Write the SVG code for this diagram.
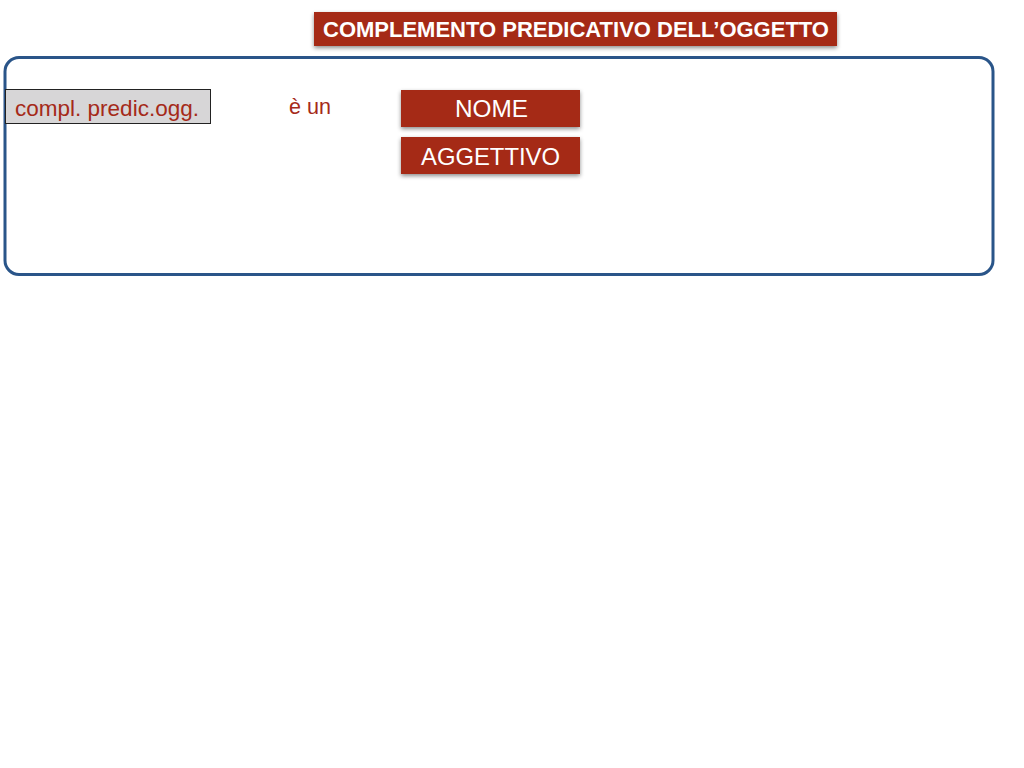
<svg xmlns="http://www.w3.org/2000/svg" width="1024" height="768" viewBox="0 0 1024 768">
<defs>
<filter id="sh" x="-10%" y="-30%" width="120%" height="170%">
<feDropShadow dx="0" dy="2" stdDeviation="2" flood-color="#000" flood-opacity="0.45"/>
</filter>
<style>
.red{fill:#a52a19}
.wt{fill:#fff;font-family:"Liberation Sans",Arial,sans-serif;font-size:24px;text-anchor:middle}
.rt{fill:#a52a19;font-family:"Liberation Sans",Arial,sans-serif;font-size:21.5px}
</style>
</defs>
<rect width="1024" height="768" fill="#fff"/>
<g id="title">
<rect x="314" y="12" width="523" height="34" class="red" filter="url(#sh)"/>
<text x="576" y="37" fill="#fff" font-family="'Liberation Sans',Arial,sans-serif" font-size="21.5" font-weight="bold" text-anchor="middle" textLength="506" lengthAdjust="spacingAndGlyphs">COMPLEMENTO PREDICATIVO DELL’OGGETTO</text>
</g>
<g id="frame">
<rect x="5" y="57.5" width="988" height="217" rx="14" fill="none" stroke="#2a5589" stroke-width="3"/>
</g>
<g id="compl">
<rect x="5.5" y="89.5" width="205" height="34" fill="#d7d6d7" stroke="#222" stroke-width="1"/>
<text x="15" y="116" class="rt" textLength="184" lengthAdjust="spacingAndGlyphs">compl. predic.ogg.</text>
</g>
<g id="eun">
<text x="289" y="114" class="rt" textLength="42" lengthAdjust="spacingAndGlyphs">è un</text>
</g>
<g id="nome">
<rect x="401" y="90" width="179" height="37" class="red" filter="url(#sh)"/>
<text x="491.5" y="117" class="wt" textLength="73" lengthAdjust="spacingAndGlyphs">NOME</text>
</g>
<g id="aggettivo">
<rect x="401" y="137" width="179" height="37" class="red" filter="url(#sh)"/>
<text x="490.5" y="164.5" class="wt" textLength="139" lengthAdjust="spacingAndGlyphs">AGGETTIVO</text>
</g>
<g id="connectors"></g>
</svg>
